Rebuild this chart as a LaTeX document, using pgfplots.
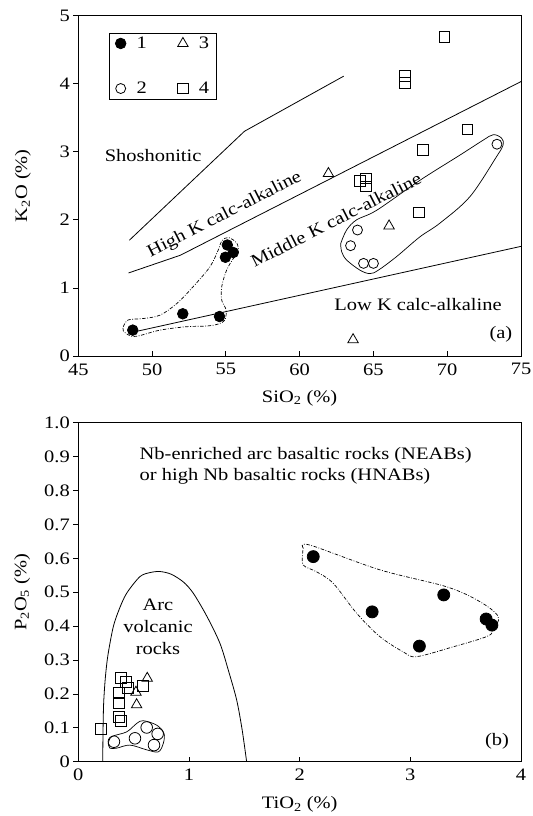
\documentclass[border=0pt]{standalone}
\usepackage{fontspec}
\setmainfont{Liberation Serif}[FakeStretch=1.17]
\usepackage{pgfplots}
\pgfplotsset{compat=1.18}

\newcommand{\fs}{\fontsize{17.5bp}{21.7bp}\selectfont}

\pgfplotsset{
  geo/.style={
    scale only axis,
    clip=false,
    axis line style={line width=0.9bp},
    every tick/.style={black, line width=0.8bp},
    major tick length=5bp,
    xtick align=inside,
    ytick align=outside,
    tick pos=left,
    minor tick num=0,
    /pgf/number format/assume math mode=true,
    tick label style={font=\fs},
    x tick label style={yshift=-4bp},
    label style={font=\fs},
  },
  env/.style={black, line width=0.7bp, smooth, tension=0.55, forget plot},
  dd/.style={dash pattern=on 3.5bp off 1.6bp on 0.8bp off 1.6bp},
  bound/.style={black, line width=0.8bp, forget plot},
  s1/.style={only marks, mark=*, mark options={fill=black, draw=black, line width=0.8bp}, mark size=5.3bp},
  s2/.style={only marks, mark=o, mark options={draw=black, fill=white, line width=0.8bp}, mark size=5bp},
  s3/.style={only marks, mark=triangle, mark options={draw=black, fill=white, line width=0.8bp}, mark size=6bp},
  s4/.style={only marks, mark=square, mark options={draw=black, fill=white, line width=0.8bp}, mark size=5.3bp},
}

\begin{document}
\begin{tikzpicture}
\useasboundingbox (0,0) rectangle (533bp,-816bp);

% ---------- (a) SiO2 - K2O ----------
\begin{axis}[
  geo,
  at={(78.3bp,-356bp)}, anchor=south west,
  width=442.7bp, height=340.5bp,
  xmin=45, xmax=75, ymin=0, ymax=5,
  xtick={45,50,55,60,65,70,75},
  ytick={0,1,2,3,4,5},
  xlabel={SiO\textsubscript{2} (\%)},
  ylabel={K\textsubscript{2}O (\%)},
  x label style={at={(axis description cs:0.5,-0.123)}, anchor=center},
  y label style={at={(axis description cs:-0.125,0.5)}, anchor=center, rotate=0},
  legend columns=2,
  legend entries={1,3,2,4},
  legend style={at={(0.070,0.95)}, anchor=north west, draw=black, line width=0.8bp,
    inner xsep=5bp, inner ysep=2bp, font=\fs, row sep=28bp, column sep=0bp,
    /tikz/every even column/.append style={column sep=28bp}},
  legend image code/.code={\path[draw=none, fill=none] (0bp,-5bp) rectangle (20bp,5bp); \draw[#1] plot coordinates {(6bp,0bp)};},
]
% boundaries
\addplot[bound] coordinates {(48.46,1.70) (56.26,3.30) (62.99,4.11)};
\addplot[bound] coordinates {(48.41,1.22) (51.92,1.48) (75.0,4.03)};
\addplot[bound] coordinates {(48.7,0.35) (75.0,1.61)};
% envelopes
\addplot[env, dd] coordinates {(48.05,0.43) (48.39,0.53) (49.40,0.55) (50.54,0.60) (51.67,0.77)
  (52.79,1.02) (53.92,1.31) (54.49,1.56) (54.72,1.69) (55.16,1.74) (55.73,1.66) (55.84,1.53)
  (55.50,1.43) (55.05,1.26) (54.72,1.02) (54.72,0.82) (55.01,0.68) (54.94,0.53) (54.49,0.47)
  (53.70,0.44) (52.34,0.43) (50.54,0.38) (48.96,0.29) (48.39,0.31) (48.05,0.37) (48.05,0.43)};
\addplot[env] coordinates {(62.78,1.65) (63.18,1.85) (63.86,2.00) (65.22,2.14) (68.15,2.58)
  (70.86,2.95) (72.44,3.17) (73.12,3.25) (73.68,3.20) (73.79,3.10) (73.35,2.93) (71.54,2.34)
  (69.50,1.95) (68.15,1.75) (66.57,1.46) (65.33,1.26) (64.76,1.21) (64.09,1.26) (63.18,1.41)
  (62.85,1.53) (62.78,1.65)};
% data
\addplot[s1] coordinates {(48.69,0.38) (52.08,0.62) (54.57,0.58) (55.10,1.63) (54.97,1.45) (55.50,1.52)};
\addplot[s3] coordinates {(61.95,2.68) (66.06,1.91) (63.62,0.24)};
\addplot[s2] coordinates {(63.45,1.62) (63.92,1.85) (64.33,1.36) (65.00,1.36) (73.37,3.11)};
\addplot[s4] coordinates {(69.80,4.69) (67.15,4.11) (67.15,4.01) (71.37,3.33) (68.37,3.03)
  (64.10,2.57) (64.49,2.61) (64.49,2.49) (68.07,2.11)};
% labels
\node[font=\fs] at (axis cs:50.07,2.94) {Shoshonitic};
\node[font=\fs, rotate=27] at (axis cs:54.92,2.07) {High K calc-alkaline};
\node[font=\fs, rotate=27] at (axis cs:62.46,2.00) {Middle K calc-alkaline};
\node[font=\fs] at (axis cs:68.02,0.76) {Low K calc-alkaline};
\node[font=\fs] at (axis cs:73.64,0.32) {(a)};
\end{axis}

% ---------- (b) TiO2 - P2O5 ----------
\begin{axis}[
  geo,
  at={(78.3bp,-761.7bp)}, anchor=south west,
  width=442.7bp, height=339bp,
  xmin=0, xmax=4, ymin=0, ymax=1,
  xtick={0,1,2,3,4},
  ytick={0,0.1,0.2,0.3,0.4,0.5,0.6,0.7,0.8,0.9,1.0},
  yticklabels={0,0.1,0.2,0.3,0.4,0.5,0.6,0.7,0.8,0.9,1.0},
  xlabel={TiO\textsubscript{2} (\%)},
  ylabel={P\textsubscript{2}O\textsubscript{5} (\%)},
  x label style={at={(axis description cs:0.5,-0.127)}, anchor=center},
  y label style={at={(axis description cs:-0.127,0.5)}, anchor=center, rotate=0},
]
\addplot[bound, smooth, tension=0.5] coordinates {(0.221,0) (0.223,0.08) (0.229,0.172) (0.245,0.25)
  (0.268,0.315) (0.316,0.398) (0.370,0.450) (0.437,0.497) (0.557,0.546) (0.650,0.558) (0.738,0.561)
  (0.840,0.553) (0.950,0.530) (1.039,0.497) (1.160,0.430) (1.280,0.349) (1.360,0.265)
  (1.431,0.182) (1.480,0.095) (1.521,0)};
\addplot[env, dd] coordinates {(2.033,0.630) (2.093,0.639) (2.725,0.566) (3.328,0.516) (3.629,0.472)
  (3.794,0.428) (3.749,0.388) (3.689,0.369) (3.388,0.339) (3.057,0.310) (2.936,0.324) (2.725,0.369)
  (2.515,0.438) (2.304,0.526) (2.154,0.560) (2.033,0.580) (2.027,0.615) (2.033,0.630)};
\addplot[env] coordinates {(0.271,0.054) (0.302,0.074) (0.437,0.088) (0.528,0.113) (0.587,0.121)
  (0.708,0.108) (0.774,0.084) (0.768,0.054) (0.723,0.029) (0.618,0.035) (0.467,0.049) (0.347,0.040)
  (0.286,0.040) (0.271,0.054)};
\addplot[s1, mark size=6bp] coordinates {(2.123,0.605) (2.655,0.442) (3.302,0.492) (3.082,0.341) (3.685,0.421) (3.737,0.403)};
\addplot[s2, mark size=5.8bp] coordinates {(0.322,0.059) (0.512,0.069) (0.618,0.101) (0.717,0.082) (0.684,0.049)};
\addplot[s3] coordinates {(0.623,0.246) (0.521,0.205) (0.527,0.168)};
\addplot[s4, mark size=5.5bp] coordinates {(0.202,0.098) (0.386,0.246) (0.452,0.217) (0.428,0.234) (0.370,0.204)
  (0.370,0.174) (0.370,0.133) (0.386,0.121) (0.587,0.223)};
\node[font=\fs, align=left, anchor=west] at (axis cs:0.523,0.873) {Nb-enriched arc basaltic rocks (NEABs)\\or high Nb basaltic rocks (HNABs)};
\node[font=\fs, align=center] at (axis cs:0.72,0.398) {Arc\\volcanic\\rocks};
\node[font=\fs] at (axis cs:3.783,0.059) {(b)};
\end{axis}
\end{tikzpicture}
\end{document}
